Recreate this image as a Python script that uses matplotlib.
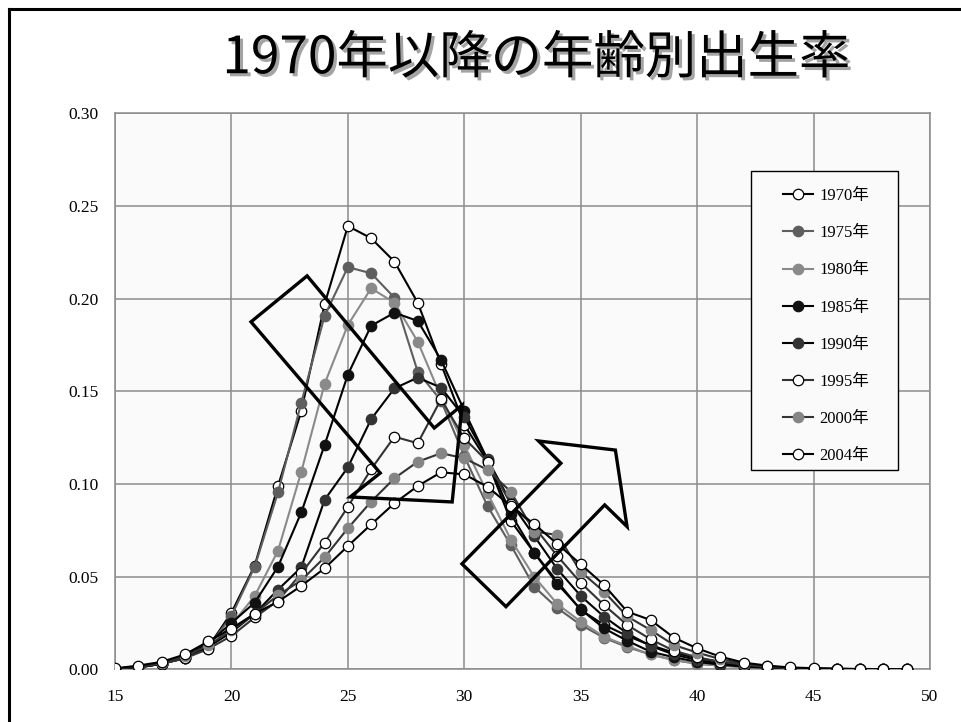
import numpy as np
import matplotlib
matplotlib.use("Agg")
import matplotlib.pyplot as plt
import matplotlib.patheffects as pe
from matplotlib.patches import Polygon, Rectangle

# ── data: age-specific fertility rates, ages 15..49 ─────────────────────────
ages = list(range(15, 50))

rate_1970 = [0.0002, 0.001, 0.003, 0.006, 0.012, 0.0305, 0.056, 0.0989, 0.1394, 0.197,
             0.2392, 0.2326, 0.220, 0.1978, 0.1648, 0.132, 0.112, 0.080, 0.063, 0.0473,
             0.032, 0.024, 0.018, 0.013, 0.009, 0.006, 0.004, 0.0025, 0.0012, 0.0006,
             0.0003, 0.0002, 0.0001, 0.0001, 0.0001]
rate_1975 = [0.0002, 0.001, 0.003, 0.006, 0.012, 0.0288, 0.0554, 0.0955, 0.1439, 0.1907,
             0.217, 0.2137, 0.2005, 0.1606, 0.145, 0.115, 0.088, 0.067, 0.0446, 0.033,
             0.024, 0.017, 0.012, 0.008, 0.005, 0.003, 0.002, 0.0012, 0.0006, 0.0003,
             0.0002, 0.0001, 0.0001, 0.0001, 0.0001]
rate_1980 = [0.0002, 0.001, 0.003, 0.006, 0.011, 0.024, 0.0396, 0.064, 0.1066, 0.154,
             0.1858, 0.2056, 0.1978, 0.1768, 0.147, 0.121, 0.095, 0.070, 0.050, 0.0352,
             0.0257, 0.0176, 0.0126, 0.008, 0.005, 0.003, 0.002, 0.0012, 0.0006, 0.0003,
             0.0002, 0.0001, 0.0001, 0.0001, 0.0001]
rate_1985 = [0.0003, 0.001, 0.003, 0.007, 0.014, 0.025, 0.036, 0.0554, 0.0847, 0.121,
             0.159, 0.1854, 0.1924, 0.188, 0.167, 0.1396, 0.113, 0.0838, 0.0629, 0.046,
             0.0324, 0.0221, 0.0154, 0.0095, 0.0065, 0.004, 0.0025, 0.0015, 0.0008, 0.0004,
             0.0002, 0.0001, 0.0001, 0.0001, 0.0001]
rate_1990 = [0.0003, 0.001, 0.003, 0.006, 0.012, 0.020, 0.030, 0.043, 0.055, 0.0914,
             0.109, 0.135, 0.1516, 0.1574, 0.152, 0.136, 0.1133, 0.090, 0.072, 0.054,
             0.0396, 0.0284, 0.0194, 0.0126, 0.008, 0.005, 0.003, 0.002, 0.001, 0.0005,
             0.0003, 0.0002, 0.0001, 0.0001, 0.0001]
rate_1995 = [0.0003, 0.0015, 0.003, 0.006, 0.011, 0.018, 0.028, 0.037, 0.0518, 0.0683,
             0.0877, 0.108, 0.1255, 0.122, 0.1457, 0.1247, 0.112, 0.0892, 0.077, 0.0611,
             0.0467, 0.0347, 0.0239, 0.0162, 0.010, 0.0065, 0.004, 0.0025, 0.0013, 0.0006,
             0.0003, 0.0002, 0.0001, 0.0001, 0.0001]
rate_2000 = [0.0004, 0.0015, 0.0035, 0.007, 0.013, 0.021, 0.030, 0.040, 0.048, 0.0604,
             0.0761, 0.0905, 0.1031, 0.112, 0.1166, 0.1139, 0.1076, 0.0958, 0.0743, 0.0725,
             0.0527, 0.0419, 0.0285, 0.0212, 0.0131, 0.009, 0.0055, 0.003, 0.0016, 0.0008,
             0.0004, 0.0002, 0.0001, 0.0001, 0.0001]
rate_2004 = [0.0005, 0.002, 0.004, 0.008, 0.015, 0.022, 0.030, 0.0365, 0.045, 0.0545,
             0.0665, 0.0782, 0.0896, 0.0989, 0.1063, 0.1052, 0.0985, 0.088, 0.0784, 0.0676,
             0.0567, 0.0455, 0.0311, 0.0266, 0.0171, 0.0113, 0.0068, 0.0036, 0.002, 0.001,
             0.0006, 0.0003, 0.0002, 0.0001, 0.0001]

years = ["1970年", "1975年", "1980年", "1985年", "1990年", "1995年", "2000年", "2004年"]
series = [rate_1970, rate_1975, rate_1980, rate_1985, rate_1990, rate_1995, rate_2000, rate_2004]

# marker fill / line colour per year
face_colors = ["white", "#5e5e5e", "#8a8a8a", "#111111", "#333333", "white", "#858585", "white"]
line_colors = ["black", "#5e5e5e", "#8a8a8a", "black", "black", "#333333", "#333333", "black"]

# block arrows (age, rate) outlining the shift towards later ages
arrow_down = [(20.84, 0.1875), (23.25, 0.2123), (28.71, 0.1302), (29.91, 0.1426),
              (29.48, 0.0903), (25.10, 0.0930), (26.39, 0.1059)]
arrow_up = [(29.90, 0.0569), (31.79, 0.0338), (36.03, 0.0887), (36.99, 0.0770),
            (36.49, 0.1183), (33.19, 0.1232), (34.15, 0.1112)]

serif = ["Liberation Serif", "Noto Sans CJK JP"]

# ── figure ──────────────────────────────────────────────────────────────────
fig = plt.figure(figsize=(9.61, 7.22), dpi=100)
fig.patch.set_facecolor("white")
ax = fig.add_axes([0.1197, 0.073, 0.848, 0.770])
ax.set_facecolor("#fafafa")

for i, (lab, y) in enumerate(zip(years, series)):
    edge = "black" if face_colors[i] == "white" else face_colors[i]
    ax.plot(ages, y, color=line_colors[i], lw=1.5, marker="o", ms=7.5,
            mfc=face_colors[i], mec=edge, mew=0.9, label=lab, zorder=3 + i * 0.1)

for pts in (arrow_down, arrow_up):
    ax.add_patch(Polygon(pts, closed=True, fill=False, ec="black", lw=2.4,
                         joinstyle="miter", zorder=5))

ax.set_xlim(15, 50)
ax.set_ylim(0, 0.30)
ax.set_xticks(range(15, 51, 5))
ax.set_yticks(np.arange(0, 0.301, 0.05))
ax.set_yticklabels([f"{v:.2f}" for v in np.arange(0, 0.301, 0.05)])
ax.tick_params(length=0, labelsize=12.5)
ax.tick_params(axis="y", pad=12)
ax.tick_params(axis="x", pad=14)
for t in ax.get_xticklabels() + ax.get_yticklabels():
    t.set_family("Liberation Serif")
ax.grid(True, color="#8c8c8c", lw=1.1)
ax.set_axisbelow(True)
for s in ax.spines.values():
    s.set_color("#8c8c8c")
    s.set_linewidth(1.1)

# legend box drawn separately so its padding can differ per side
ax.add_patch(Rectangle((0.7804, 0.3593), 0.1803, 0.5371, transform=ax.transAxes,
                       fc="#fafafa", ec="black", lw=1.0, zorder=9))
leg = ax.legend(loc="upper left", bbox_to_anchor=(0.8195, 0.8655), frameon=False,
                prop={"family": serif, "size": 12}, handlelength=1.8,
                labelspacing=1.27, borderpad=0, handletextpad=0.38,
                borderaxespad=0)
leg.set_zorder(10)

# title with drop shadow
fig.text(0.558, 0.919, "1970年以降の年齢別出生率", ha="center", va="center",
         fontsize=37, family="Noto Sans CJK JP", color="black",
         path_effects=[pe.withSimplePatchShadow(offset=(2.2, -2.2), shadow_rgbFace="#9a9a9a", alpha=0.9)])

# slide frame
fig.add_artist(plt.Line2D([0.009, 0.009], [0.0, 0.988], transform=fig.transFigure,
                          color="black", lw=2.2))
fig.add_artist(plt.Line2D([0.009, 1.0], [0.988, 0.988], transform=fig.transFigure,
                          color="black", lw=2.2))

fig.savefig("out.png", dpi=100)
